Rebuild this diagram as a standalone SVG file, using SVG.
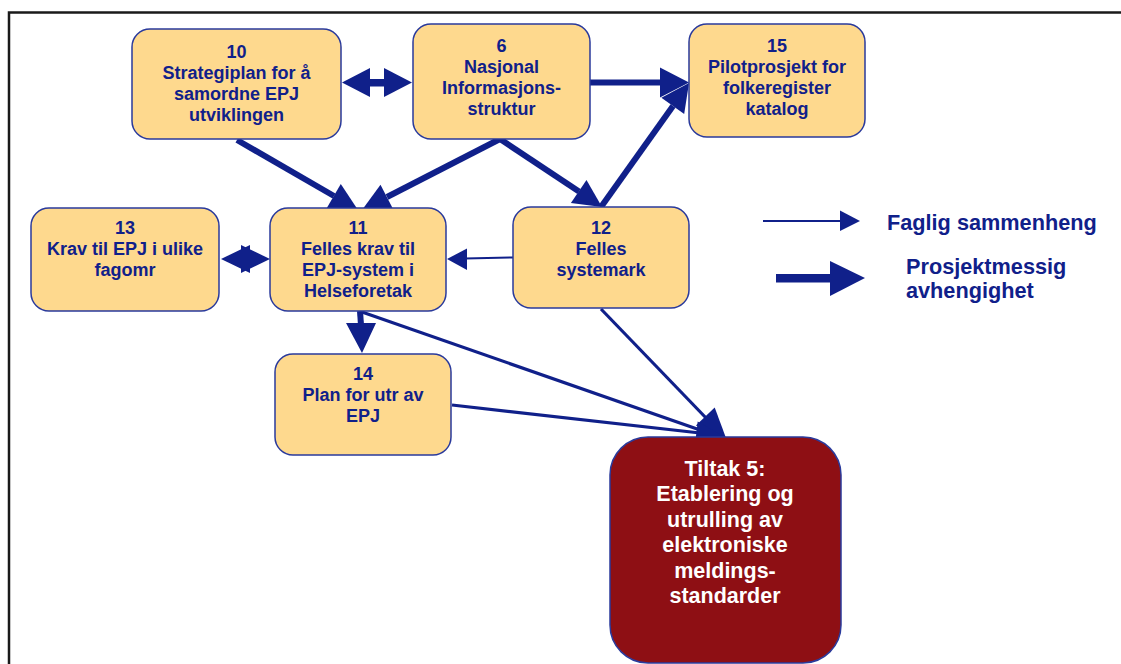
<svg xmlns="http://www.w3.org/2000/svg" width="1121" height="664" viewBox="0 0 1121 664">
<style>
.box{fill:#FED98E;stroke:#2A3A9C;stroke-width:1.5}
.red{fill:#8E0F14;stroke:#2A3A9C;stroke-width:1.5}
.t{font-family:"Liberation Sans",Arial,sans-serif;font-weight:bold;font-size:18px;fill:#10208A;text-anchor:middle}
.tw{font-family:"Liberation Sans",Arial,sans-serif;font-weight:bold;font-size:21.5px;fill:#FFFFFF;text-anchor:middle}
.lg{font-family:"Liberation Sans",Arial,sans-serif;font-weight:bold;font-size:21.7px;fill:#10208A}
.thick{stroke:#10208A;stroke-width:6;fill:none}
.mid{stroke:#10208A;stroke-width:3.2;fill:none}
.thin{stroke:#10208A;stroke-width:2;fill:none}
.head{fill:#10208A}
</style>
<rect x="0" y="0" width="1121" height="664" fill="#FFFFFF"/>
<path d="M9,664 V12.5 H1121" fill="none" stroke="#1a1a1a" stroke-width="2.5"/>

<g id="connectors">
  <!-- 10 <-> 6 -->
  <rect x="368" y="79" width="18" height="7.5" class="head"/>
  <polygon class="head" points="342,82.5 370,68 370,97"/>
  <polygon class="head" points="412,82.5 384,68 384,97"/>
  <!-- 6 -> 15 -->
  <line class="thick" x1="590" y1="82.5" x2="662" y2="82.5" stroke-width="5.5"/>
  <polygon class="head" points="689,82.5 660,67.5 660,97.5"/>
  <!-- 12 -> 15 -->
  <line class="thick" x1="601" y1="207" x2="673" y2="106"/>
  <polygon class="head" points="689,83 684.2,113.9 661.4,97.7"/>
  <!-- 10 -> 11 -->
  <line class="thick" x1="237" y1="140" x2="334" y2="196"/>
  <polygon class="head" points="358,210 326.8,208.1 340.8,183.9"/>
  <!-- 6 -> 11 -->
  <line class="thick" x1="500" y1="139" x2="387" y2="197"/>
  <polygon class="head" points="362,210 380.5,184.8 393.3,209.6"/>
  <!-- 6 -> 12 -->
  <line class="thick" x1="500" y1="139" x2="579" y2="191.5"/>
  <polygon class="head" points="602,207 570.9,203.1 586.5,179.9"/>
  <!-- 13 <-> 11 -->
  <rect x="240" y="254" width="12" height="10" class="head"/>
  <polygon class="head" points="221,259 250,245 250,273"/>
  <polygon class="head" points="270,259 241,245 241,273"/>
  <!-- 12 -> 11 -->
  <line class="thin" x1="513" y1="257.5" x2="465" y2="258.5"/>
  <polygon class="head" points="447,259 467,248.5 467,270"/>
  <!-- 11 -> 14 -->
  <line class="thick" x1="360" y1="311" x2="361" y2="325" stroke-width="5"/>
  <polygon class="head" points="346,323 376,323 362,353"/>
  <!-- to Tiltak 5 -->
  <line class="mid" x1="362" y1="312" x2="700" y2="430"/>
  <line class="mid" x1="452" y1="405" x2="700" y2="433"/>
  <line class="mid" x1="601" y1="309" x2="708" y2="420"/>
  <polygon class="head" points="726,438 695.9,425.4 714.7,407.4"/>
  <polygon class="head" points="726,438 694.7,447.4 697.7,421.6"/>
</g>

<g id="node10">
  <rect class="box" x="132" y="29" width="209" height="110" rx="18"/>
  <text class="t" x="236.5" y="58">10</text>
  <text class="t" x="236.5" y="79">Strategiplan for å</text>
  <text class="t" x="236.5" y="100">samordne EPJ</text>
  <text class="t" x="236.5" y="121">utviklingen</text>
</g>
<g id="node6">
  <rect class="box" x="413" y="24" width="177" height="115" rx="18"/>
  <text class="t" x="501.5" y="52">6</text>
  <text class="t" x="501.5" y="73">Nasjonal</text>
  <text class="t" x="501.5" y="94">Informasjons-</text>
  <text class="t" x="501.5" y="115">struktur</text>
</g>
<g id="node15">
  <rect class="box" x="689" y="24" width="176" height="113" rx="18"/>
  <text class="t" x="777" y="52">15</text>
  <text class="t" x="777" y="73">Pilotprosjekt for</text>
  <text class="t" x="777" y="94">folkeregister</text>
  <text class="t" x="777" y="115">katalog</text>
</g>
<g id="node13">
  <rect class="box" x="31" y="208" width="188" height="103" rx="18"/>
  <text class="t" x="125" y="234">13</text>
  <text class="t" x="125" y="255">Krav til EPJ i ulike</text>
  <text class="t" x="125" y="276">fagomr</text>
</g>
<g id="node11">
  <rect class="box" x="270" y="208" width="176" height="103" rx="18"/>
  <text class="t" x="358" y="234">11</text>
  <text class="t" x="358" y="255">Felles krav til</text>
  <text class="t" x="358" y="276">EPJ-system i</text>
  <text class="t" x="358" y="297">Helseforetak</text>
</g>
<g id="node12">
  <rect class="box" x="513" y="207" width="176" height="101" rx="18"/>
  <text class="t" x="601" y="234">12</text>
  <text class="t" x="601" y="255">Felles</text>
  <text class="t" x="601" y="276">systemark</text>
</g>
<g id="node14">
  <rect class="box" x="275" y="354" width="176" height="101" rx="18"/>
  <text class="t" x="363" y="380">14</text>
  <text class="t" x="363" y="401">Plan for utr av</text>
  <text class="t" x="363" y="422">EPJ</text>
</g>
<g id="tiltak5">
  <rect class="red" x="610" y="437" width="231" height="226" rx="38"/>
  <text class="tw" x="725" y="476">Tiltak 5:</text>
  <text class="tw" x="725" y="501">Etablering og</text>
  <text class="tw" x="725" y="527">utrulling av</text>
  <text class="tw" x="725" y="552">elektroniske</text>
  <text class="tw" x="725" y="578">meldings-</text>
  <text class="tw" x="725" y="603">standarder</text>
</g>

<g id="legend">
  <line class="thin" x1="763" y1="221" x2="842" y2="221"/>
  <polygon class="head" points="860,221 840,210.5 840,231"/>
  <text class="lg" x="887" y="230">Faglig sammenheng</text>
  <rect class="head" x="776" y="274" width="56" height="8.5"/>
  <polygon class="head" points="865,278 830,261 830,296"/>
  <text class="lg" x="906" y="274">Prosjektmessig</text>
  <text class="lg" x="906" y="298">avhengighet</text>
</g>
</svg>
